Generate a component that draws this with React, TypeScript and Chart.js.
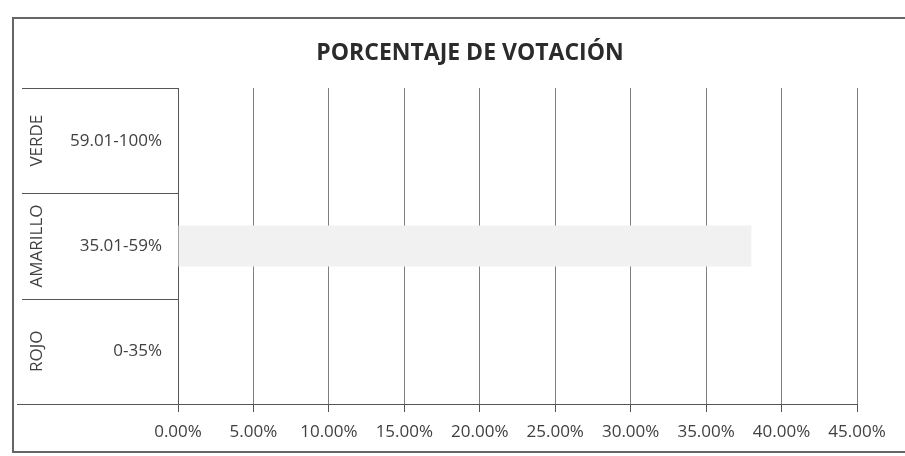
import React, { useEffect, useRef } from "react";
import { Chart, registerables } from "chart.js";

Chart.register(...registerables);

const TITLE = "PORCENTAJE DE VOTACIÓN";
const groupLabels = ["VERDE", "AMARILLO", "ROJO"];
const rangeLabels = ["59.01-100%", "35.01-59%", "0-35%"];
const votePercent: (number | null)[] = [null, 0.38, null];
const xTickValues = [0, 0.05, 0.1, 0.15, 0.2, 0.25, 0.3, 0.35, 0.4, 0.45];

const FONT = "'Open Sans', sans-serif";
const TEXT = "#404040";
const LINE = "#555555";
const GRID = "#7f7f7f";

const tablePlugin = {
  id: "tableAndTitle",
  afterDraw(chart: any) {
    const { ctx, chartArea, scales } = chart;
    const y = scales.y;
    const n = rangeLabels.length;
    ctx.save();
    // title
    ctx.fillStyle = "#2b2b2b";
    ctx.font = `bold 23px ${FONT}`;
    ctx.textAlign = "center";
    ctx.textBaseline = "alphabetic";
    ctx.fillText(TITLE, 470, 60);
    // table row separators
    ctx.strokeStyle = LINE;
    ctx.lineWidth = 1;
    const half = (y.getPixelForValue(1) - y.getPixelForValue(0)) / 2;
    for (let i = 0; i <= n; i++) {
      const py =
        i < n ? y.getPixelForValue(i) - half : y.getPixelForValue(n - 1) + half;
      const x0 = i === n ? 17 : 22;
      const yy = Math.round(py) + 0.5;
      ctx.beginPath();
      ctx.moveTo(x0, yy);
      ctx.lineTo(chartArea.left, yy);
      ctx.stroke();
    }
    // group labels (rotated)
    ctx.font = `17px ${FONT}`;
    ctx.fillStyle = TEXT;
    ctx.textAlign = "center";
    ctx.textBaseline = "alphabetic";
    groupLabels.forEach((g, i) => {
      const cy = y.getPixelForValue(i);
      ctx.save();
      ctx.translate(42, cy);
      ctx.rotate(-Math.PI / 2);
      ctx.fillText(g, 0, 0);
      ctx.restore();
    });
    ctx.restore();
  },
};

export default function App() {
  const ref = useRef<HTMLCanvasElement>(null);

  useEffect(() => {
    if (!ref.current) return;
    const chart = new Chart(ref.current, {
      type: "bar",
      data: {
        labels: rangeLabels,
        datasets: [
          {
            data: votePercent,
            backgroundColor: "#f1f1f1",
            borderWidth: 0,
            barPercentage: 0.39,
            categoryPercentage: 1,
          },
        ],
      },
      options: {
        indexAxis: "y",
        animation: false,
        responsive: true,
        maintainAspectRatio: false,
        layout: { padding: { top: 88, right: 48, left: 0, bottom: 0 } },
        plugins: {
          legend: { display: false },
          tooltip: { enabled: false },
          title: { display: false },
        },
        scales: {
          x: {
            type: "linear",
            min: 0,
            max: 0.45,
            afterBuildTicks: (s: any) => {
              s.ticks = xTickValues.map((v) => ({ value: v }));
            },
            afterFit: (s: any) => {
              s.height = 52;
            },
            grid: {
              color: GRID,
              lineWidth: 1,
              drawTicks: true,
              tickLength: 8,
              tickColor: LINE,
            },
            border: { display: true, color: LINE, width: 1 },
            ticks: {
              font: { family: FONT, size: 17 },
              color: TEXT,
              padding: 10,
              maxRotation: 0,
              minRotation: 0,
              autoSkip: false,
              callback: (v: any) => (Number(v) * 100).toFixed(2) + "%",
            },
          },
          y: {
            type: "category",
            z: 1,
            afterFit: (s: any) => {
              s.width = 178;
            },
            grid: { display: false, drawTicks: false },
            border: { display: true, color: LINE, width: 1 },
            ticks: {
              font: { family: FONT, size: 17 },
              color: TEXT,
              padding: 16,
            },
          },
        },
      },
      plugins: [tablePlugin],
    });
    return () => chart.destroy();
  }, []);

  return (
    <div
      style={{
        position: "fixed",
        left: 0,
        top: 0,
        width: 905,
        height: 456,
        overflow: "hidden",
        background: "#ffffff",
      }}
    >
      <div
        style={{
          position: "absolute",
          left: 12,
          top: 17,
          width: 1000,
          height: 432,
          borderLeft: "2px solid #666",
          borderTop: "2px solid #666",
          borderBottom: "2px solid #666",
        }}
      />
      <div style={{ position: "absolute", left: 0, top: 0, width: 905, height: 456 }}>
        <canvas ref={ref} />
      </div>
    </div>
  );
}
